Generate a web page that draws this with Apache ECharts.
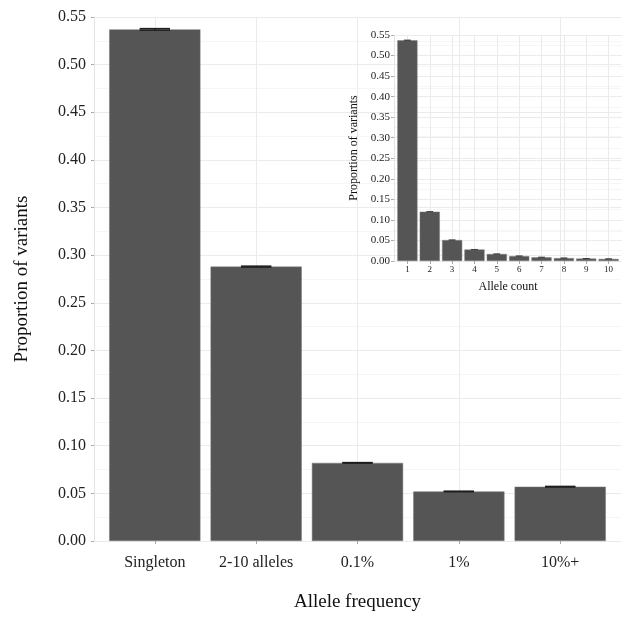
<!DOCTYPE html>
<html>
<head>
<meta charset="utf-8">
<script src="https://cdn.jsdelivr.net/npm/echarts@6/dist/echarts.min.js"></script>
<style>
html, body { margin: 0; padding: 0; background: #fff; }
#echarts-freq { width: 622px; height: 617px; }
</style>
</head>
<body>
<div id="echarts-freq"></div>
<script>
//----------------------Data----------------------
let freq_categories = ['Singleton', '2-10 alleles', '0.1%', '1%', '10%+'];
let freq_values     = [0.537, 0.288, 0.082, 0.052, 0.057];
let freq_err_low    = [0.5362, 0.2875, 0.0817, 0.0517, 0.0567];
let freq_err_high   = [0.5378, 0.2885, 0.0823, 0.0523, 0.0573];

let count_categories = ['1', '2', '3', '4', '5', '6', '7', '8', '9', '10'];
let count_values     = [0.537, 0.120, 0.051, 0.028, 0.017, 0.012, 0.009, 0.007, 0.006, 0.005];
let count_err_low    = [0.5362, 0.1197, 0.0509, 0.0279, 0.0169, 0.0119, 0.0089, 0.0069, 0.0059, 0.0049];
let count_err_high   = [0.5378, 0.1203, 0.0511, 0.0281, 0.0171, 0.0121, 0.0091, 0.0071, 0.0061, 0.0051];

//--------------------Style-----------------------
let font_family = "'Liberation Serif', 'DejaVu Serif', serif";
let bar_color = '#555555';
let grid_major = '#ebebeb';
let grid_minor = '#f6f6f6';
let tick_color = '#aaaaaa';

let freq_chart_dom = document.getElementById('echarts-freq');
let freq_chart = echarts.init(freq_chart_dom);

//----------------------Helpers-------------------
function make_errorbar_render(line_width, color) {
    return function (params, api) {
        let x = api.value(0);
        let lo = api.coord([x, api.value(1)]);
        let hi = api.coord([x, api.value(2)]);
        let half = api.size([0.15, 0])[0];
        let st = { stroke: color, lineWidth: line_width };
        return {
            type: 'group',
            children: [
                { type: 'line', shape: { x1: lo[0] - half, y1: lo[1], x2: lo[0] + half, y2: lo[1] }, style: st },
                { type: 'line', shape: { x1: hi[0] - half, y1: hi[1], x2: hi[0] + half, y2: hi[1] }, style: st },
                { type: 'line', shape: { x1: lo[0], y1: lo[1], x2: hi[0], y2: hi[1] }, style: st }
            ]
        };
    };
}

function make_xaxis(idx, cats, label_size, label_margin, name, name_size, name_gap) {
    let ticks = cats.map(function (c, i) { return i + 1; });
    return {
        type: 'value',
        gridIndex: idx,
        min: 0.4,
        max: cats.length + 0.6,
        name: name,
        nameLocation: 'middle',
        nameGap: name_gap,
        nameTextStyle: { fontFamily: font_family, fontSize: name_size, color: '#111' },
        axisLine: { show: false },
        axisTick: { show: true, length: 3, customValues: ticks, lineStyle: { color: tick_color } },
        axisLabel: {
            customValues: ticks,
            margin: label_margin,
            fontFamily: font_family,
            fontSize: label_size,
            color: '#222',
            formatter: function (v) { return cats[Math.round(v) - 1]; }
        },
        splitLine: { show: true, lineStyle: { color: grid_major, width: 1 } }
    };
}

function make_yaxis(idx, label_size, label_margin, name, name_size, name_gap) {
    return {
        type: 'value',
        gridIndex: idx,
        min: 0,
        max: 0.55,
        interval: 0.05,
        name: name,
        nameLocation: 'middle',
        nameGap: name_gap,
        nameTextStyle: { fontFamily: font_family, fontSize: name_size, color: '#111' },
        axisLine: { show: true, lineStyle: { color: '#e4e4e4' } },
        axisTick: { show: true, length: 3, lineStyle: { color: tick_color } },
        axisLabel: {
            margin: label_margin,
            fontFamily: font_family,
            fontSize: label_size,
            color: '#222',
            formatter: function (v) { return v.toFixed(2); }
        },
        splitLine: { show: true, lineStyle: { color: grid_major, width: 1 } },
        minorTick: { show: false, splitNumber: 2 },
        minorSplitLine: { show: true, lineStyle: { color: grid_minor, width: 1 } }
    };
}

//----------------------Grid----------------------
let grid_main  = { left: 94, right: 1, top: 17, bottom: 72 };
let grid_inset = { left: 394, right: 0, top: 35, bottom: 356 };

//---------------------Series---------------------
let freq_bar_data = freq_values.map(function (v, i) { return [i + 1, v]; });
let freq_err_data = freq_values.map(function (v, i) { return [i + 1, freq_err_low[i], freq_err_high[i]]; });
let count_bar_data = count_values.map(function (v, i) { return [i + 1, v]; });
let count_err_data = count_values.map(function (v, i) { return [i + 1, count_err_low[i], count_err_high[i]]; });

let freq_option = {
    backgroundColor: '#ffffff',
    animation: false,
    grid: [grid_main, grid_inset],
    xAxis: [
        make_xaxis(0, freq_categories, 16, 14, 'Allele frequency', 19, 52),
        make_xaxis(1, count_categories, 9, 4, 'Allele count', 12, 20)
    ],
    yAxis: [
        make_yaxis(0, 16, 8, 'Proportion of variants', 19, 62),
        make_yaxis(1, 11, 4, 'Proportion of variants', 12, 34)
    ],
    series: [
        {
            type: 'bar', xAxisIndex: 0, yAxisIndex: 0,
            barWidth: '90%',
            itemStyle: { color: bar_color, borderColor: '#7a7a7a', borderWidth: 0.5 },
            data: freq_bar_data
        },
        {
            type: 'custom', xAxisIndex: 0, yAxisIndex: 0,
            renderItem: make_errorbar_render(1.5, '#1e1e1e'),
            encode: { x: 0, y: [1, 2] },
            z: 3,
            data: freq_err_data
        },
        {
            type: 'bar', xAxisIndex: 1, yAxisIndex: 1,
            barWidth: '90%',
            itemStyle: { color: bar_color, borderColor: '#7a7a7a', borderWidth: 0.5 },
            data: count_bar_data
        },
        {
            type: 'custom', xAxisIndex: 1, yAxisIndex: 1,
            renderItem: make_errorbar_render(0.8, '#3a3a3a'),
            encode: { x: 0, y: [1, 2] },
            z: 3,
            data: count_err_data
        }
    ]
};
freq_chart.setOption(freq_option, true);
</script>
</body>
</html>
